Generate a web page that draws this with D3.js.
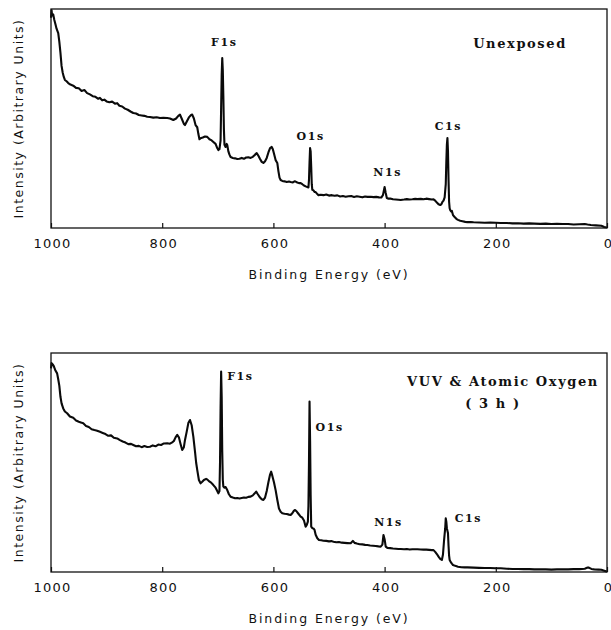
<!DOCTYPE html>
<html>
<head>
<meta charset="utf-8">
<script src="https://cdn.jsdelivr.net/npm/d3@7"></script>
<style>
  html, body { margin: 0; padding: 0; background: #fff; }
  svg { display: block; }
  .tick text { font-family: "DejaVu Sans", sans-serif; font-size: 13px; letter-spacing: 1.2px; fill: #111; }
</style>
</head>
<body>
<svg id="chart" width="611" height="630"></svg>
<script>
// ---------------- DATA ----------------
const xTicks = [1000, 800, 600, 400, 200, 0];
const xTitle = "Binding Energy (eV)";
const yTitle = "Intensity (Arbitrary Units)";

// Top panel: Unexposed
const energyTop = [1000,999,998,996,994,992,990,987,985,983,981,979,977,975,972,969,965,960,955,950,945,940,935,930,925,920,915,912,908,904,900,895,890,885,881,877,872,867,862,857,852,847,842,837,832,827,822,816,810,804,798,791,786,780,775,771,768,765,761,759,756,752,748,746,743,740,737,735,733,731,727,723,719,715,711,708,704,701,699,697,695,694,693,692,691,690,689,688,686,684,683,681,679,677,673,669,665,661,657,653,649,645,641,637,633,630,627,624,621,618,615,612,609,606,603,601,599,596,593,591,589,587,584,580,576,572,569,565,562,560,557,554,551,548,545,542,539,537,536,535,534,533,532,531,530,528,526,524,521,519,515,510,505,500,495,490,485,480,475,470,465,460,455,450,445,440,435,431,425,420,415,410,406,403,401,400,398,396,393,390,385,380,375,371,365,360,355,350,345,341,335,330,325,320,315,312,309,306,303,300,298,296,294,292,290,289,288,287,286,285,284,283,282,280,279,277,274,271,268,264,260,255,251,245,240,230,220,210,200,191,180,170,160,150,140,131,120,110,100,90,80,70,60,50,40,35,29,20,10,5,2,0];
const intensityTop = [96,99.5,97,97.5,95,93,91,89,85,80,74,71,69,67.6,67,66.2,65.5,65,64,63.8,62.6,63,61.6,61,60.2,59.9,59,59.4,58.3,58.6,57.8,57.4,57.7,56.8,57,55.8,55.5,54.5,54,53.2,52.5,52.3,51.6,51.4,51.2,50.8,50.7,50.4,50.6,50.2,50.3,50.2,50,49.3,50,51.2,51.8,50,47.5,47,48.5,50.5,51.6,51.8,50,47,46,43,40.5,41,41.3,41.8,41.6,40.5,40,39.3,38.4,36.5,35.6,36,40,55,70,77.6,72,60,45,38,37,38.4,37.9,35,33.5,32.4,32,31.8,31.5,31.6,32,31.6,32.2,32.3,32,32.5,33.5,34.2,33,31.5,30.2,29.7,30.5,32,34.5,36.5,37,36,34,31,29.7,26,23,21.9,21.5,21.3,21,21.2,21,20.8,21.3,21.2,20.8,20.5,20.5,20,19.4,19,18.7,18.5,22,30,36.5,35,28,20,17.4,17.2,16.5,16.4,15.5,15,15.2,15,15.3,14.8,15,14.7,14.9,14.4,14.6,14.3,14.5,14.6,14.2,14.5,14.3,14,14.4,14.2,14.3,14.1,14.2,14,13.9,15,17.5,18.7,16,13.7,13.4,13.5,13.1,13,12.9,12.8,13,13.2,13,13.1,13.3,13.2,13.3,13.1,13.4,13.2,13,13.1,12.5,11.6,10.8,10.5,10.8,11.9,12.5,14,20,30,38,41.1,35,22,12,9,8.2,7.5,7.8,5.9,5,4.2,3.7,3.3,3.1,2.8,2.7,2.7,2.6,2.5,2.4,2.5,2.4,2.3,2.3,2.1,2.2,2.0,2.1,2.0,1.9,2.0,1.8,1.9,1.8,1.8,1.6,1.7,1.8,1.6,1.4,1.2,1.0,0.5,0.3,0.2];

// Bottom panel: VUV & Atomic Oxygen (3 h)
const energyBottom = [1000,999,997,995,992,989,987,985,983,981,978,975,971,966,960,955,950,945,942,937,932,927,922,917,912,907,902,897,892,887,881,876,871,866,861,856,852,847,842,837,832,827,822,817,812,807,802,797,791,786,782,779,776,773,770,767,764,761,759,756,753,750,747,744,741,739,737,734,731,728,725,721,719,716,712,708,704,701,699,697,696,695,694,693,692,691,690,688,686,683,680,677,673,669,665,661,657,653,649,645,641,637,634,631,628,624,621,618,615,612,609,606,604,602,599,596,593,590,587,584,580,576,572,569,566,563,561,558,555,551,548,545,542,540,538,537,536,535,534,533,532,530,528,526,524,521,518,514,510,505,500,495,492,487,482,477,472,467,461,457,454,450,445,440,435,431,426,421,416,411,407,404,402,400,398,395,390,385,380,375,371,365,360,355,350,345,341,335,330,325,320,315,312,309,306,303,300,297,295,293,291,290,289,288,286,285,284,283,281,279,277,273,268,262,256,251,240,230,220,210,200,191,180,170,160,150,140,131,120,110,100,90,80,70,60,50,40,36,34,31,28,23,15,10,5,2,0];
const intensityBottom = [93,95.4,94.8,94,92,90.7,88,85,80,77,74.7,73.3,72.5,71,70.4,69.2,68.6,68.2,67.9,66.7,66.2,65.2,64.8,64.5,64,63.5,63,62.2,62.4,61.3,61,60.2,59.6,59.1,58.4,58.5,58,57.4,57.6,57,57.5,57.1,57.2,57.8,57.4,58.2,58,58.7,58.8,58.6,59.2,59.8,61.5,62.6,61.5,58.5,55.7,57,60.3,64,68,69.4,67,61.8,55,50,46.6,42,40.5,41.2,42,42.5,42.3,41.5,40.8,39.7,38.5,37,35.9,37,50,75,91.5,80,55,42,39,38.5,38.8,37.4,35.5,34.4,34,33.7,33.8,33.6,33.8,34,33.9,34.3,34.4,35,35.8,36.7,35.5,34,33.2,32.9,34,37,41,44.5,45.8,44,41,37.4,33,29,27.5,26.8,26.6,26.5,26.2,26,26.8,28,28.3,27.6,26.6,25.3,24.8,23.5,20.7,21.5,23,30,50,77.8,60,35,20.7,20,19.9,19.2,17,15.4,14.6,14.5,14.3,14.2,14.0,14.1,13.8,13.6,13.7,13.4,13.3,13.2,13.1,14.2,13.3,13,12.7,12.6,12.4,12.3,12.1,12,11.9,11.7,11.6,12.5,16.9,15,11.6,11,10.9,10.7,10.6,10.5,10.5,10.4,10.5,10.3,10.4,10.4,10.4,10.3,10.2,10.2,10.1,10,10,9.2,8.2,7,6,5.5,8,14.6,20,24.5,23,20,17.7,12,7.5,5.5,4.5,3.8,3.2,2.8,2.4,2.2,2.1,2.1,2.0,1.9,1.8,1.8,1.7,1.7,1.5,1.4,1.4,1.3,1.3,1.2,1.2,1.2,1.1,1.2,1.2,1.2,1.3,1.3,1.5,1.9,2.1,1.8,1.4,1.2,1.1,1.0,0.6,0.3,0.1];

const peakNamesTop = ["F1s", "O1s", "N1s", "C1s"];
const peakNamesBottom = ["F1s", "O1s", "N1s", "C1s"];
const conditionTop = ["Unexposed"];
const conditionBottom = ["VUV & Atomic Oxygen", "( 3 h )"];

// ---------------- DRAW ----------------
const svg = d3.select("#chart");
const left = 51, right = 607;

function panel(cfg) {
  const g = svg.append("g");
  const x = d3.scaleLinear().domain([1000, 0]).range([left, right]);
  const y = d3.scaleLinear().domain([0, 100]).range([cfg.bottom, cfg.top]);

  // axis (inner ticks + labels)
  const ax = g.append("g")
    .attr("transform", `translate(0,${cfg.bottom})`)
    .call(d3.axisBottom(x).tickValues(xTicks).tickFormat(d3.format("d"))
      .tickSizeInner(-5).tickSizeOuter(0).tickPadding(11));
  ax.select(".domain").remove();
  ax.selectAll(".tick line").attr("stroke", "#111").attr("stroke-width", 1.2);
  ax.selectAll(".tick text").attr("x", 1);

  // spectrum
  const pts = cfg.energy.map((e, i) => [e, cfg.intensity[i]]);
  g.append("path")
    .datum(pts)
    .attr("fill", "none")
    .attr("stroke", "#0a0a0a")
    .attr("stroke-width", 2.1)
    .attr("stroke-linejoin", "round")
    .attr("d", d3.line().x(d => x(d[0])).y(d => y(d[1])));

  // frame
  g.append("rect")
    .attr("x", left).attr("y", cfg.top)
    .attr("width", right - left).attr("height", cfg.bottom - cfg.top)
    .attr("fill", "none").attr("stroke", "#111").attr("stroke-width", 1.3);

  // axis titles
  g.append("text")
    .attr("x", 329).attr("y", cfg.bottom + 51)
    .attr("text-anchor", "middle")
    .style("font-family", "DejaVu Sans, sans-serif")
    .style("font-size", "12.5px").style("letter-spacing", "1.9px")
    .attr("fill", "#111")
    .text(xTitle);
  g.append("text")
    .attr("transform", `translate(23,${(cfg.top + cfg.bottom) / 2}) rotate(-90)`)
    .attr("text-anchor", "middle")
    .style("font-family", "DejaVu Sans, sans-serif")
    .style("font-size", "12.5px").style("letter-spacing", "1.5px")
    .attr("fill", "#111")
    .text(yTitle);

  // peak labels
  cfg.peaks.forEach(p => {
    g.append("text")
      .attr("x", x(p.e) + p.dx).attr("y", y(p.v) + p.dy)
      .attr("text-anchor", p.anchor)
      .style("font-family", "DejaVu Serif, serif")
      .style("font-weight", "bold")
      .style("font-size", "11px").style("letter-spacing", "1.6px")
      .attr("fill", "#111")
      .text(p.name);
  });

  // condition labels
  cfg.cond.forEach(c => {
    g.append("text")
      .attr("x", c.x).attr("y", c.y)
      .attr("text-anchor", "middle")
      .style("font-family", "DejaVu Serif, serif")
      .style("font-weight", "bold")
      .style("font-size", "13px").style("letter-spacing", "1.6px")
      .attr("fill", "#111")
      .text(c.text);
  });
}

panel({
  top: 9, bottom: 228,
  energy: energyTop, intensity: intensityTop,
  peaks: [
    { name: peakNamesTop[0], e: 692, v: 77.6, dx: 2, dy: -12, anchor: "middle" },
    { name: peakNamesTop[1], e: 533, v: 36.5, dx: 0, dy: -8, anchor: "middle" },
    { name: peakNamesTop[2], e: 400, v: 18.7, dx: 3, dy: -11, anchor: "middle" },
    { name: peakNamesTop[3], e: 287, v: 41.1, dx: 1, dy: -8, anchor: "middle" }
  ],
  cond: [{ text: conditionTop[0], x: 520, y: 48 }]
});

panel({
  top: 353, bottom: 572,
  energy: energyBottom, intensity: intensityBottom,
  peaks: [
    { name: peakNamesBottom[0], e: 694, v: 91.5, dx: 6, dy: 8, anchor: "start" },
    { name: peakNamesBottom[1], e: 535, v: 77.8, dx: 6, dy: 29, anchor: "start" },
    { name: peakNamesBottom[2], e: 402, v: 16.9, dx: 5, dy: -9, anchor: "middle" },
    { name: peakNamesBottom[3], e: 290, v: 24.5, dx: 9, dy: 4, anchor: "start" }
  ],
  cond: [
    { text: conditionBottom[0], x: 503, y: 386 },
    { text: conditionBottom[1], x: 493, y: 408 }
  ]
});
</script>
</body>
</html>
